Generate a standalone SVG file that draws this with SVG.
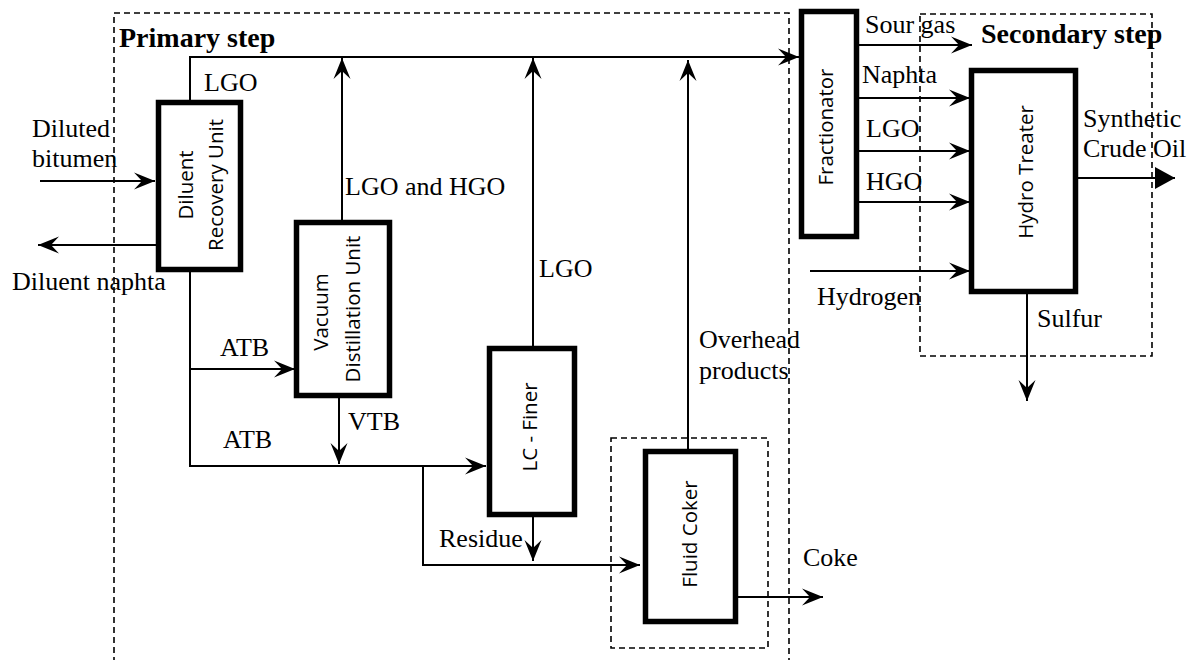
<svg xmlns="http://www.w3.org/2000/svg" width="1191" height="660" viewBox="0 0 1191 660">
<style>
.bg{fill:#fff}
.box{fill:#fff;stroke:#000;stroke-width:5.5}
.dash{fill:none;stroke:#000;stroke-width:1.6;stroke-dasharray:6 4}
.ln{fill:none;stroke:#000;stroke-width:2}
.arr{marker-end:url(#ah)}
.lbl{font-family:"Liberation Serif","Times New Roman",serif;font-size:26px;fill:#000}
.ttl{font-family:"Liberation Serif","Times New Roman",serif;font-size:28px;font-weight:bold;fill:#000}
.unit{font-family:"Open Sans","Liberation Sans",sans-serif;font-size:20.5px;fill:#000;text-anchor:middle}
</style>
<defs>
<marker id="ah" viewBox="-22 -10 23 20" refX="0" refY="0" markerWidth="23" markerHeight="20" orient="auto" markerUnits="userSpaceOnUse">
<path d="M0,0 L-21,-8.5 L-13,0 L-21,8.5 Z" fill="#000"/>
</marker>
<marker id="tri" viewBox="-21 -11 22 22" refX="0" refY="0" markerWidth="22" markerHeight="22" orient="auto" markerUnits="userSpaceOnUse">
<path d="M0,0 L-20,-11 L-20,11 Z" fill="#000"/>
</marker>
</defs>
<rect class="bg" x="0" y="0" width="1191" height="660"/>

<g id="regions">
<rect id="primary" class="dash" x="114" y="13" width="675" height="660"/>
<text class="ttl" x="119" y="47">Primary step</text>
<rect id="secondary" class="dash" x="920" y="14" width="232" height="342"/>
<text class="ttl" x="981" y="43">Secondary step</text>
<rect id="coker-zone" class="dash" x="611" y="438" width="157" height="210"/>
</g>

<g id="connectors">
<polyline class="ln arr" points="190,102 190,57 799,57"/>
<line class="ln arr" x1="342" y1="222" x2="342" y2="58"/>
<line class="ln arr" x1="533" y1="348" x2="533" y2="58"/>
<line class="ln arr" x1="688" y1="451" x2="688" y2="60"/>
<line class="ln arr" x1="40" y1="181" x2="155" y2="181"/>
<line class="ln arr" x1="156" y1="245" x2="38" y2="245"/>
<polyline class="ln" points="190,270 190,466 423,466"/>
<line class="ln arr" x1="190" y1="369" x2="295" y2="369"/>
<line class="ln arr" x1="423" y1="466" x2="486" y2="466"/>
<line class="ln arr" x1="339" y1="396" x2="339" y2="464"/>
<polyline class="ln arr" points="423,466 423,565 640,565"/>
<line class="ln arr" x1="533" y1="515" x2="533" y2="561"/>
<line class="ln arr" x1="738" y1="597" x2="823" y2="597"/>
<line class="ln arr" x1="859" y1="45" x2="972" y2="45"/>
<line class="ln arr" x1="859" y1="98" x2="970" y2="98"/>
<line class="ln arr" x1="859" y1="151" x2="970" y2="151"/>
<line class="ln arr" x1="859" y1="202" x2="970" y2="202"/>
<line class="ln arr" x1="810" y1="271" x2="970" y2="271"/>
<line class="ln" x1="1078" y1="178" x2="1175" y2="178" marker-end="url(#tri)"/>
<line class="ln arr" x1="1027" y1="294" x2="1027" y2="401"/>
</g>

<g id="labels">
<text class="lbl" x="204" y="91">LGO</text>
<text class="lbl" x="32" y="137">Diluted</text>
<text class="lbl" x="32" y="167">bitumen</text>
<text class="lbl" x="12" y="290">Diluent naphta</text>
<text class="lbl" x="345" y="195">LGO and HGO</text>
<text class="lbl" x="539" y="277">LGO</text>
<text class="lbl" x="699" y="348">Overhead</text>
<text class="lbl" x="699" y="379">products</text>
<text class="lbl" x="220" y="356">ATB</text>
<text class="lbl" x="223" y="448">ATB</text>
<text class="lbl" x="348" y="430">VTB</text>
<text class="lbl" x="439" y="547">Residue</text>
<text class="lbl" x="803" y="566">Coke</text>
<text class="lbl" x="865" y="33">Sour gas</text>
<text class="lbl" x="862" y="83">Naphta</text>
<text class="lbl" x="866" y="137">LGO</text>
<text class="lbl" x="866" y="190">HGO</text>
<text class="lbl" x="817" y="305">Hydrogen</text>
<text class="lbl" x="1083" y="127">Synthetic</text>
<text class="lbl" x="1083" y="157">Crude Oil</text>
<text class="lbl" x="1037" y="327">Sulfur</text>
</g>

<g id="diluent-recovery-unit">
<rect class="box" x="158.5" y="102.5" width="82" height="167"/>
<text class="unit" transform="translate(193,185) rotate(-90)">Diluent</text>
<text class="unit" transform="translate(223,185) rotate(-90)">Recovery Unit</text>
</g>

<g id="vacuum-distillation-unit">
<rect class="box" x="296.5" y="222.5" width="93" height="173"/>
<text class="unit" transform="translate(328,312) rotate(-90)">Vacuum</text>
<text class="unit" transform="translate(360,309) rotate(-90)">Distillation Unit</text>
</g>

<g id="lc-finer">
<rect class="box" x="489.5" y="348.5" width="85" height="166"/>
<text class="unit" transform="translate(537,427) rotate(-90)">LC - Finer</text>
</g>

<g id="fluid-coker">
<rect class="box" x="645.5" y="451.5" width="90" height="170"/>
<text class="unit" transform="translate(697,534) rotate(-90)">Fluid Coker</text>
</g>

<g id="fractionator">
<rect class="box" x="801.5" y="11.5" width="55" height="225"/>
<text class="unit" transform="translate(833,127) rotate(-90)">Fractionator</text>
</g>

<g id="hydro-treater">
<rect class="box" x="971.5" y="70.5" width="104" height="221"/>
<text class="unit" transform="translate(1033,172) rotate(-90)">Hydro Treater</text>
</g>
</svg>
